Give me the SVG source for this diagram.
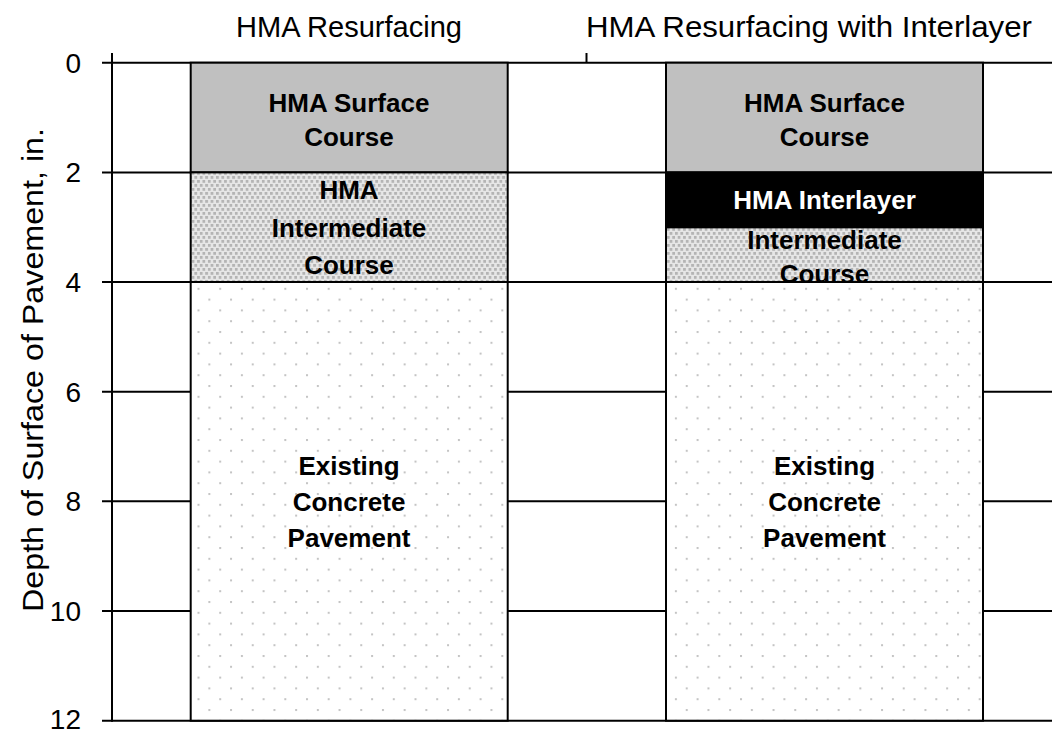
<svg xmlns="http://www.w3.org/2000/svg" width="1052" height="734" viewBox="0 0 1052 734">
<style>
.reg{font-family:"Liberation Sans",Arial,sans-serif;fill:#000;}
.title{font-size:29px;text-anchor:middle;}
.tick{font-size:28px;text-anchor:end;}
.lbl{font-family:"Liberation Sans",Arial,sans-serif;font-weight:bold;font-size:26px;text-anchor:middle;fill:#000;}
.white{fill:#fff;}
.grid{stroke:#000;stroke-width:2;fill:none;}
.layer{stroke:#000;stroke-width:2;}
</style>
<defs>
<pattern id="pInter" patternUnits="userSpaceOnUse" width="5.4" height="8">
<rect width="5.4" height="8" fill="#e6e6e6"/>
<rect x="0" y="0" width="2.8" height="2.8" fill="#b4b4b4"/>
<rect x="2.7" y="4" width="2.8" height="2.8" fill="#b4b4b4"/>
</pattern>
<pattern id="pConc" patternUnits="userSpaceOnUse" x="197.5" y="590.2" width="21.7" height="21.6">
<rect width="21.7" height="21.6" fill="#fff"/>
<rect x="0" y="0" width="2" height="2" fill="#c4c4c4"/>
<rect x="10.85" y="10.8" width="2" height="2" fill="#c4c4c4"/>
</pattern>
<clipPath id="clipRI"><rect x="666" y="227.2" width="317" height="54.8"/></clipPath>
</defs>
<rect width="1052" height="734" fill="#fff"/>

<g id="connectors">
<line class="grid" x1="102" y1="62.7" x2="1052" y2="62.7"/>
<line class="grid" x1="102" y1="172.4" x2="1052" y2="172.4"/>
<line class="grid" x1="102" y1="282" x2="1052" y2="282"/>
<line class="grid" x1="102" y1="391.7" x2="1052" y2="391.7"/>
<line class="grid" x1="102" y1="501.3" x2="1052" y2="501.3"/>
<line class="grid" x1="102" y1="611" x2="1052" y2="611"/>
<line class="grid" x1="102" y1="720.7" x2="1052" y2="720.7"/>
<line class="grid" x1="112" y1="53" x2="112" y2="721.7"/>
<line class="grid" x1="586.5" y1="53" x2="586.5" y2="62.7"/>
</g>

<g id="axis-labels">
<text class="reg title" x="349" y="37" textLength="226" lengthAdjust="spacingAndGlyphs">HMA Resurfacing</text>
<text class="reg title" x="809" y="37" textLength="446" lengthAdjust="spacingAndGlyphs">HMA Resurfacing with Interlayer</text>
<text class="reg tick" x="81" y="72.7">0</text>
<text class="reg tick" x="81" y="182.4">2</text>
<text class="reg tick" x="81" y="292">4</text>
<text class="reg tick" x="81" y="401.7">6</text>
<text class="reg tick" x="81" y="511.3">8</text>
<text class="reg tick" x="81" y="621">10</text>
<text class="reg tick" x="81" y="729">12</text>
<text class="reg" font-size="29" text-anchor="middle" transform="translate(43,370) rotate(-90)" textLength="484" lengthAdjust="spacingAndGlyphs">Depth of Surface of Pavement, in.</text>
</g>

<g id="left-surface">
<rect class="layer" x="190.7" y="62.7" width="317" height="109.7" fill="#c0c0c0"/>
<text class="lbl" x="349" y="112">HMA Surface</text>
<text class="lbl" x="349" y="146">Course</text>
</g>
<g id="left-intermediate">
<rect class="layer" x="190.7" y="172.4" width="317" height="109.6" fill="url(#pInter)"/>
<text class="lbl" x="349" y="199">HMA</text>
<text class="lbl" x="349" y="237">Intermediate</text>
<text class="lbl" x="349" y="274">Course</text>
</g>
<g id="left-concrete">
<rect class="layer" x="190.7" y="282" width="317" height="438.7" fill="url(#pConc)"/>
<text class="lbl" x="349" y="475">Existing</text>
<text class="lbl" x="349" y="511">Concrete</text>
<text class="lbl" x="349" y="547">Pavement</text>
</g>

<g id="right-surface">
<rect class="layer" x="666" y="62.7" width="317" height="109.7" fill="#c0c0c0"/>
<text class="lbl" x="824.5" y="112">HMA Surface</text>
<text class="lbl" x="824.5" y="146">Course</text>
</g>
<g id="right-intermediate">
<rect class="layer" x="666" y="227.2" width="317" height="54.8" fill="url(#pInter)"/>
<g clip-path="url(#clipRI)">
<text class="lbl" x="824.5" y="249">Intermediate</text>
<text class="lbl" x="824.5" y="283">Course</text>
</g>
<line class="grid" x1="666" y1="282" x2="983" y2="282"/>
</g>
<g id="right-interlayer">
<rect class="layer" x="666" y="172.4" width="317" height="54.8" fill="#000"/>
<text class="lbl white" x="824.5" y="209">HMA Interlayer</text>
</g>
<g id="right-concrete">
<rect class="layer" x="666" y="282" width="317" height="438.7" fill="url(#pConc)"/>
<text class="lbl" x="824.5" y="475">Existing</text>
<text class="lbl" x="824.5" y="511">Concrete</text>
<text class="lbl" x="824.5" y="547">Pavement</text>
</g>
</svg>
